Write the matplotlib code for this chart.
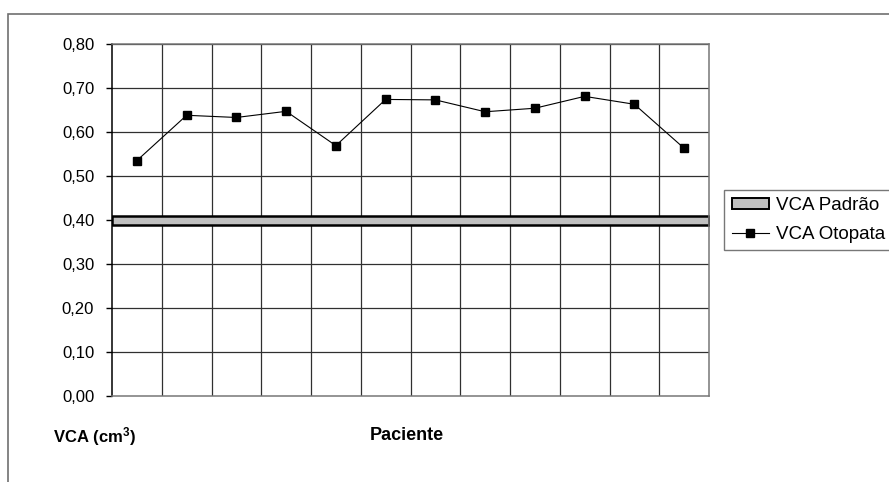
import numpy as np
import matplotlib.pyplot as plt
from matplotlib.patches import Rectangle, Patch
from matplotlib.lines import Line2D

# data
pacientes = np.arange(1, 13)
vca_otopata = [0.535, 0.638, 0.633, 0.647, 0.569, 0.674, 0.673, 0.646, 0.654, 0.681, 0.663, 0.563]
padrao_min = 0.388
padrao_max = 0.410
y_ticks = [0.0, 0.1, 0.2, 0.3, 0.4, 0.5, 0.6, 0.7, 0.8]


def main():
	plt.rcParams['font.family'] = ['Liberation Sans', 'DejaVu Sans']
	plt.rcParams['mathtext.fontset'] = 'custom'
	plt.rcParams['mathtext.rm'] = 'Liberation Sans'
	plt.rcParams['mathtext.bf'] = 'Liberation Sans:bold'
	fig = plt.figure(figsize=(8.89, 4.82), dpi=100)
	W, H = 889.0, 482.0
	ax = fig.add_axes([112 / W, 1 - 396 / H, (709 - 112) / W, (396 - 44) / H])

	# outer frame (cut by the image border)
	fig.add_artist(Rectangle((8 / W, -0.2), 1.2, 1.2 - 14 / H, transform=fig.transFigure,
		fill=False, edgecolor='#707070', linewidth=1.2))

	n = len(pacientes)
	x = pacientes - 0.5

	# grid
	for yv in y_ticks[1:]:
		ax.axhline(yv, color='#303030', linewidth=0.9, zorder=1)
	for xv in range(1, n):
		ax.axvline(xv, color='#303030', linewidth=0.9, zorder=1)

	# VCA Padrao band
	ax.fill_between([0, n], [padrao_min, padrao_min], [padrao_max, padrao_max],
		facecolor='#c0c0c0', edgecolor='black', linewidth=1.8, zorder=2)

	# VCA Otopata
	ax.plot(x, vca_otopata, color='black', linewidth=0.8, marker='s', markersize=6, zorder=3)

	ax.set_xlim(0, n)
	ax.set_ylim(0, 0.8)
	ax.set_yticks(y_ticks)
	ax.yaxis.set_major_formatter(plt.FuncFormatter(lambda v, p: ('%.2f' % v).replace('.', ',')))
	ax.set_xticks([])
	ax.tick_params(axis='y', direction='out', length=4.3, width=1, labelsize=12, pad=8.5)
	ax.spines['left'].set_color('black')
	for s in ['top', 'right', 'bottom']:
		ax.spines[s].set_color('#777777')
	for s in ax.spines.values():
		s.set_linewidth(1.1)

	fig.text(53 / W, 1 - 437 / H, r'VCA (cm$\mathbf{^3}$)', fontsize=12, fontweight='bold', va='center', ha='left')
	fig.text(407 / W, 1 - 435 / H, 'Paciente', fontsize=13, fontweight='bold', va='center', ha='center')

	handles = [
		Patch(facecolor='#c0c0c0', edgecolor='black', linewidth=1.4, label='VCA Padrão'),
		Line2D([], [], color='black', linewidth=0.8, marker='s', markersize=6, label='VCA Otopata'),
	]
	leg = fig.legend(handles=handles, loc='upper left', bbox_to_anchor=(724 / W, 1 - 190 / H),
		fontsize=13.5, frameon=True, fancybox=False, edgecolor='#555555', borderpad=0.4,
		handlelength=2.0, handleheight=0.5, handletextpad=0.37, labelspacing=0.6, borderaxespad=0)
	leg.get_frame().set_linewidth(1.0)

	fig.savefig('out.png', dpi=100)


if __name__ == '__main__':
	main()
